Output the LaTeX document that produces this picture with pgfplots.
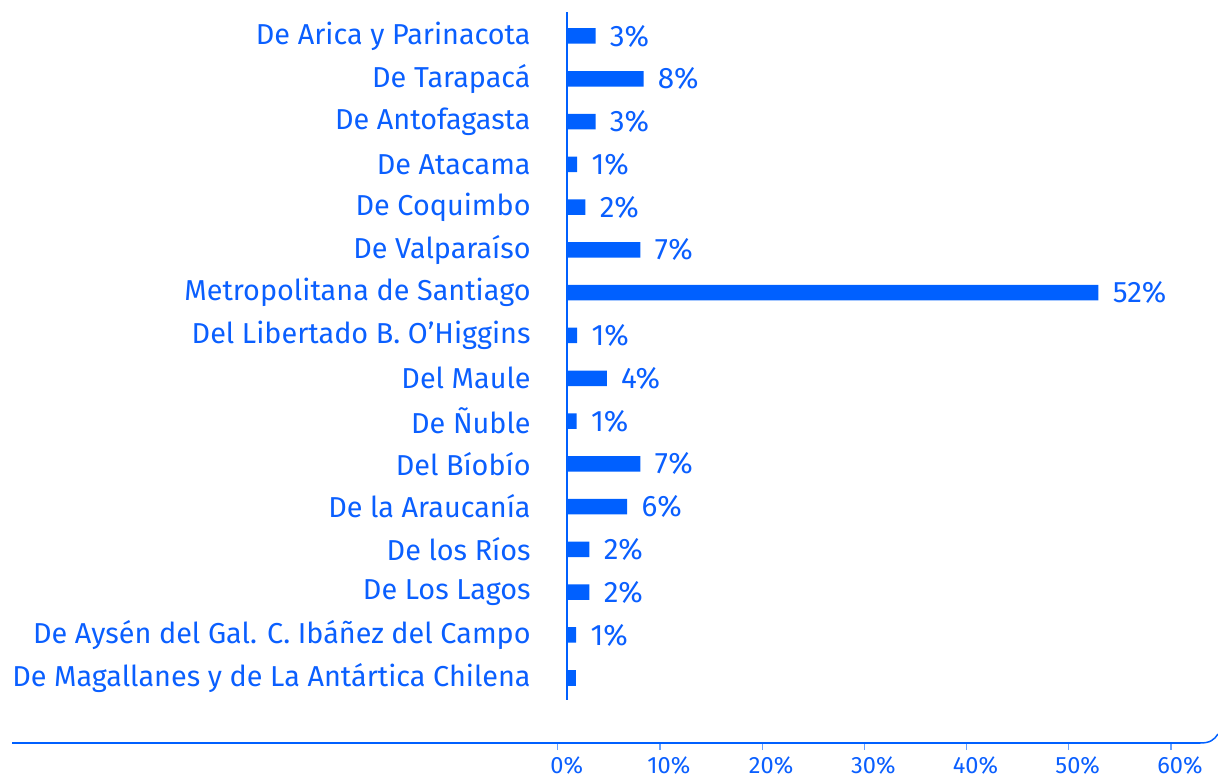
\documentclass[border=0pt]{standalone}
\usepackage{pgfplots}
\pgfplotsset{compat=1.18}
\usepackage{pgfplotstable}
\usepackage{fontspec}
\setmainfont{Fira Sans}
\definecolor{barblue}{RGB}{0,96,255}
\definecolor{txtblue}{RGB}{10,95,255}

\pgfplotstableread{
y val lab
0 2.8 3
1 7.5 8
2 2.8 3
3 1.0 1
4 1.8 2
5 7.2 7
6 52.1 52
7 1.0 1
8 3.9 4
9 0.95 1
10 7.2 7
11 5.9 6
12 2.2 2
13 2.2 2
14 0.9 1
}\datatab

\begin{document}
\begin{tikzpicture}
\path[use as bounding box] (0,0) rectangle (609pt,-390pt);
\begin{axis}[
  at={(283.5pt,-350pt)}, anchor=south west,
  scale only axis, width=321.3pt, height=344pt,
  xmin=0, xmax=63, ymin=-0.56, ymax=15.52, y dir=reverse,
  axis x line=none, axis y line=left,
  axis line style={-, draw=barblue, line width=1pt},
  ytick={0,...,15},
  yticklabels={De Arica y Parinacota, De Tarapacá, De Antofagasta, De Atacama, De Coquimbo, De Valparaíso, Metropolitana de Santiago, Del Libertado B. O’Higgins, Del Maule, De Ñuble, Del Bíobío, De la Araucanía, De los Ríos, De Los Lagos, De Aysén del Gal. C. Ibáñez del Campo, De Magallanes y de La Antártica Chilena},
  major tick length=0pt,
  yticklabel style={font=\fontsize{14.4}{16}\selectfont, text=txtblue, anchor=east, inner sep=0pt, xshift=-18pt},
  xbar, bar width=7.75pt, bar shift=0pt,
  clip=false,
]
\addplot[fill=barblue, draw=none, point meta=explicit symbolic,
  nodes near coords={\pgfplotspointmeta\%},
  nodes near coords style={font=\fontsize{14.8}{16}\selectfont, text=txtblue, anchor=west, inner sep=0pt, xshift=7pt}]
  table[x=val, y=y, meta=lab]{\datatab};
\addplot[fill=barblue, draw=none] coordinates {(0.9,15)};
\end{axis}
\begin{axis}[
  at={(6pt,-371.5pt)}, anchor=south west,
  scale only axis, width=594pt, height=10pt,
  xmin=-53.4, xmax=62.85, ymin=0, ymax=1,
  axis x line=bottom, axis y line=none,
  axis line style={-, draw=barblue, line width=0.75pt},
  xtick={0,10,...,60},
  xticklabels={0\%,10\%,20\%,30\%,40\%,50\%,60\%},
  tick style={draw=barblue!60, line width=0.6pt},
  major tick length=3.5pt, tick align=outside,
  xticklabel style={font=\fontsize{11.8}{13}\selectfont, text=txtblue, xshift=4.5pt, yshift=0.3pt},
  clip=false,
]
\addplot[draw=none] coordinates {(0,0)};
\end{axis}
\draw[barblue, line width=0.75pt] (600pt,-371.5pt) .. controls (605pt,-371.5pt) and (607pt,-370pt) .. (609pt,-367pt);
\end{tikzpicture}
\end{document}
